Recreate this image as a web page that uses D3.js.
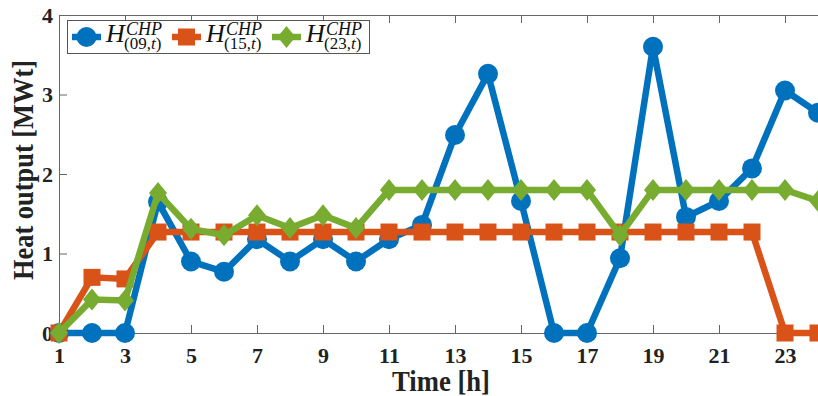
<!DOCTYPE html>
<html>
<head>
<script src="https://d3js.org/d3.v7.min.js"></script>
<style>
  body { margin: 0; background: #fff; }
  svg { display: block; }
</style>
</head>
<body>
<script>
// hours 1..24
const hours = d3.range(1, 25);
const h09 = [0, 0, 0, 1.65, 0.9, 0.77, 1.18, 0.9, 1.18, 0.9, 1.18, 1.36, 2.49, 3.26, 1.66, 0, 0, 0.94, 3.6, 1.46, 1.66, 2.07, 3.05, 2.77];
const h15 = [0, 0.7, 0.68, 1.27, 1.27, 1.27, 1.27, 1.27, 1.27, 1.27, 1.27, 1.27, 1.27, 1.27, 1.27, 1.27, 1.27, 1.27, 1.27, 1.27, 1.27, 1.27, 0, 0];
const h23 = [0, 0.42, 0.41, 1.76, 1.31, 1.23, 1.48, 1.32, 1.48, 1.32, 1.8, 1.8, 1.8, 1.8, 1.8, 1.8, 1.8, 1.23, 1.8, 1.8, 1.8, 1.8, 1.8, 1.66];
const xTicks = [1, 3, 5, 7, 9, 11, 13, 15, 17, 19, 21, 23];
const yTicks = [0, 1, 2, 3, 4];
const seriesNames = ["09,t", "15,t", "23,t"];

const w = 818, h = 396;
const x = d3.scaleLinear().domain([1, 24]).range([59, 818]);
const y = d3.scaleLinear().domain([0, 4]).range([333, 15]);

const svg = d3.select("body").append("svg")
    .attr("width", w).attr("height", h)
    .style("font-family", "'Liberation Serif', 'Times New Roman', serif");

// axes
const axisCol = "#666";
const xAxis = svg.append("g").attr("transform", "translate(0," + y(0) + ")")
    .call(d3.axisBottom(x).tickValues(xTicks).tickSizeInner(-8).tickSizeOuter(0).tickPadding(14));
const xTop = svg.append("g").attr("transform", "translate(0," + y(4) + ")")
    .call(d3.axisTop(x).tickValues(xTicks).tickSizeInner(-8).tickSizeOuter(0).tickFormat(""));
const yAxis = svg.append("g").attr("transform", "translate(" + x(1) + ",0)")
    .call(d3.axisLeft(y).tickValues(yTicks).tickSizeInner(-8).tickSizeOuter(0).tickPadding(6).tickFormat(d3.format("d")));

[xAxis, xTop, yAxis].forEach(g => {
  g.selectAll("path.domain").attr("stroke", axisCol);
  g.selectAll(".tick line").attr("stroke", axisCol);
  g.selectAll("text").attr("fill", "#222").style("font-size", "22px").style("font-weight", "bold")
    .style("font-family", "'Liberation Serif', serif");
});
xAxis.selectAll("text").attr("dy", "0.71em");

// axis labels (slightly condensed like the original)
svg.append("text")
    .attr("x", 441).attr("y", 391)
    .attr("text-anchor", "middle")
    .attr("textLength", 98).attr("lengthAdjust", "spacingAndGlyphs")
    .style("font-size", "29px").style("font-weight", "bold").attr("fill", "#222")
    .text("Time [h]");
svg.append("text")
    .attr("transform", "translate(33,170) rotate(-90)")
    .attr("text-anchor", "middle")
    .attr("textLength", 220).attr("lengthAdjust", "spacingAndGlyphs")
    .style("font-size", "30px").style("font-weight", "bold").attr("fill", "#222")
    .text("Heat output [MWt]");

const colors = ["#0072BD", "#D95319", "#77AC30"];
const allSeries = [h09, h15, h23];
const line = d3.line().x((d, i) => x(hours[i])).y(d => y(d));

function drawMarker(g, k, cx, cy) {
  if (k === 0) {
    g.append("circle").attr("cx", cx).attr("cy", cy).attr("r", 10).attr("fill", colors[0]);
  } else if (k === 1) {
    g.append("rect").attr("x", cx - 8.5).attr("y", cy - 8.5).attr("width", 17).attr("height", 17).attr("fill", colors[1]);
  } else {
    g.append("path")
      .attr("d", `M${cx},${cy - 11}L${cx + 9},${cy}L${cx},${cy + 11}L${cx - 9},${cy}Z`)
      .attr("fill", colors[2]);
  }
}

allSeries.forEach((vals, k) => {
  const g = svg.append("g");
  g.append("path").datum(vals)
    .attr("d", line)
    .attr("fill", "none")
    .attr("stroke", colors[k])
    .attr("stroke-width", 6.5)
    .attr("stroke-linejoin", "miter");
  vals.forEach((v, i) => drawMarker(g, k, x(hours[i]), y(v)));
});

// legend
const leg = svg.append("g");
leg.append("rect").attr("x", 67.5).attr("y", 20.5).attr("width", 302).attr("height", 33)
  .attr("fill", "#fff").attr("stroke", "#555").attr("stroke-width", 1);
seriesNames.forEach((name, k) => {
  const x0 = 72 + k * 100;
  const cy = 37;
  leg.append("line").attr("x1", x0).attr("x2", x0 + 29).attr("y1", cy).attr("y2", cy)
    .attr("stroke", colors[k]).attr("stroke-width", 6.5);
  drawMarker(leg, k, x0 + 14.5, cy);
  const t = leg.append("text").attr("x", x0 + 34).attr("y", 42)
    .style("font-family", "'Liberation Serif', serif").attr("fill", "#111");
  t.append("tspan").style("font-size", "26px").style("font-style", "italic").text("H");
  t.append("tspan").attr("x", x0 + 54).attr("y", 35).style("font-size", "18px").style("font-style", "italic").text("CHP");
  const sub = t.append("tspan").attr("x", x0 + 52).attr("y", 49).style("font-size", "17px");
  const parts = name.split(",");
  sub.text("(" + parts[0] + ",");
  t.append("tspan").style("font-size", "17px").style("font-style", "italic").text(parts[1]);
  t.append("tspan").style("font-size", "17px").text(")");
});
</script>
</body>
</html>
